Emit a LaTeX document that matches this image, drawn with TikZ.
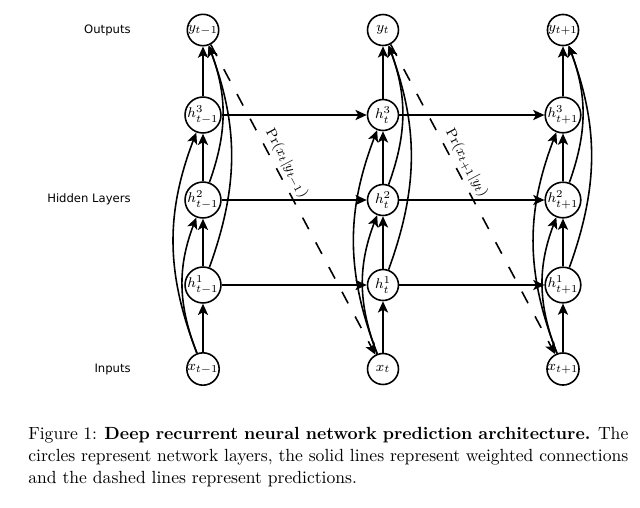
\documentclass[tikz,border=0pt]{standalone}
\usepackage{fontspec}
\newfontfamily\labfont{DejaVu Sans}
\usetikzlibrary{arrows.meta}
\begin{document}
\begin{tikzpicture}[x=0.568pt,y=-0.568pt,
  unit/.style={circle,draw,line width=0.9pt,inner sep=0pt,minimum size=17.6pt,font=\fontsize{8.3}{9}\selectfont},
  conn/.style={line width=0.9pt,-{Stealth[length=6.4pt,width=5.8pt,inset=1.6pt]}},
  pred/.style={conn,dash pattern=on 7.4pt off 8.5pt},
  predlab/.style={pos=0.4,sloped,above,inner sep=2pt,font=\fontsize{8}{9}\selectfont},
  rowlab/.style={anchor=east,inner sep=0pt,font=\labfont\fontsize{6.6}{8}\selectfont}]
\useasboundingbox (0,0) rectangle (640,507);
\foreach \c/\cx/\s in {1/203/t-1,2/383/t,3/563/t+1}{
  \node[unit] (y\c) at (\cx,30) {$y_{\s}$};
  \node[unit] (hc\c) at (\cx,115) {$h^3_{\s}$};
  \node[unit] (hb\c) at (\cx,200) {$h^2_{\s}$};
  \node[unit] (ha\c) at (\cx,285) {$h^1_{\s}$};
  \node[unit] (x\c) at (\cx,369) {$x_{\s}$};
  \draw[conn] (x\c) -- (ha\c);
  \draw[conn] (ha\c) -- (hb\c);
  \draw[conn] (hb\c) -- (hc\c);
  \draw[conn] (hc\c) -- (y\c);
  \draw[conn] (x\c) to[bend left=21] (hb\c);
  \draw[conn] (x\c) to[bend left=21] (hc\c);
  \draw[conn] (ha\c) to[bend right=20] (y\c);
  \draw[conn] (hb\c) to[bend right=20] (y\c);
}
\foreach \l in {a,b,c}{
  \draw[conn] (h\l1) -- (h\l2);
  \draw[conn] (h\l2) -- (h\l3);
}
\draw[pred] (y1) -- node[predlab] {$\Pr(x_t|y_{t-1})$} (x2);
\draw[pred] (y2) -- node[predlab] {$\Pr(x_{t+1}|y_t)$} (x3);
\node[rowlab] (lo) at (131,30) {Outputs};
\node[rowlab] (lh) at (131,199) {Hidden Layers};
\node[rowlab] (li) at (131,369) {Inputs};
\node[anchor=base west,inner sep=0pt,text width=340.8pt,align=justify,font=\fontsize{10}{12.5}\selectfont] (cap) at (28,439)
  {Figure 1: \textbf{Deep recurrent neural network prediction architecture.} The circles represent network layers, the solid lines represent weighted connections and the dashed lines represent predictions.};
\end{tikzpicture}
\end{document}
